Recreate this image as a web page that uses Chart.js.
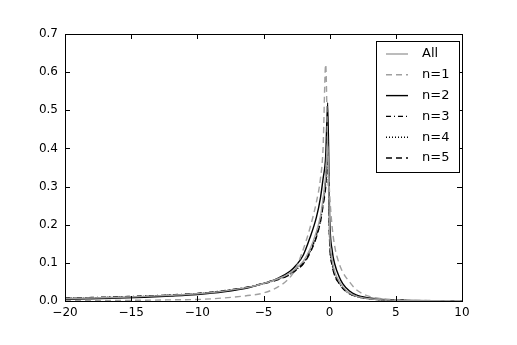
<!DOCTYPE html>
<html>
<head>
<meta charset="utf-8">
<script src="https://cdn.jsdelivr.net/npm/chart.js@4"></script>
<style>
  body { margin: 0; background: #fff; }
</style>
</head>
<body>
<canvas id="chart" width="517" height="345"></canvas>
<script>
const xs = [-20, -18, -16, -14, -12, -10, -8, -6, -5, -4, -3, -2.5, -2, -1.5, -1, -0.7, -0.5, -0.3, -0.15, 0, 0.2, 0.4, 0.7, 1, 1.5, 2, 3, 4, 5, 6, 8, 10];

const all = [0.007, 0.008, 0.010, 0.012, 0.015, 0.019, 0.026, 0.037, 0.046, 0.057, 0.073, 0.087, 0.104, 0.135, 0.182, 0.222, 0.268, 0.33, 0.42, 0.18, 0.105, 0.075, 0.053, 0.037, 0.021, 0.013, 0.006, 0.003, 0.002, 0.001, 0.0006, 0.0003];
const n1 = [0.001, 0.0012, 0.0015, 0.002, 0.003, 0.004, 0.008, 0.015, 0.021, 0.035, 0.062, 0.09, 0.135, 0.19, 0.26, 0.32, 0.40, 0.62, 0.40, 0.28, 0.19, 0.14, 0.10, 0.075, 0.05, 0.03, 0.012, 0.006, 0.003, 0.002, 0.001, 0.0005];
const n2 = [0.005, 0.006, 0.008, 0.010, 0.013, 0.017, 0.024, 0.036, 0.046, 0.058, 0.078, 0.095, 0.12, 0.165, 0.22, 0.27, 0.32, 0.38, 0.52, 0.22, 0.13, 0.095, 0.065, 0.045, 0.026, 0.016, 0.008, 0.004, 0.0025, 0.0015, 0.0008, 0.0004];
const n3 = [0.008, 0.009, 0.011, 0.013, 0.016, 0.020, 0.027, 0.038, 0.047, 0.057, 0.072, 0.085, 0.10, 0.13, 0.175, 0.215, 0.26, 0.32, 0.40, 0.17, 0.10, 0.07, 0.05, 0.035, 0.02, 0.013, 0.006, 0.003, 0.002, 0.001, 0.0006, 0.0003];
const n4 = [0.007, 0.008, 0.010, 0.012, 0.015, 0.019, 0.026, 0.037, 0.046, 0.056, 0.070, 0.083, 0.098, 0.127, 0.17, 0.21, 0.255, 0.31, 0.39, 0.16, 0.095, 0.067, 0.048, 0.034, 0.019, 0.012, 0.006, 0.003, 0.0018, 0.001, 0.0005, 0.0003];
const n5 = [0.007, 0.008, 0.010, 0.012, 0.015, 0.019, 0.026, 0.037, 0.045, 0.055, 0.069, 0.082, 0.097, 0.125, 0.168, 0.207, 0.25, 0.30, 0.38, 0.155, 0.092, 0.065, 0.047, 0.033, 0.019, 0.012, 0.006, 0.003, 0.0018, 0.001, 0.0005, 0.0003];

const labels = ['All', 'n=1', 'n=2', 'n=3', 'n=4', 'n=5'];
const xTicks = [-20, -15, -10, -5, 0, 5, 10];
const yTicks = [0, 0.1, 0.2, 0.3, 0.4, 0.5, 0.6, 0.7];

const grey = '#a0a0a0';
const styles = [
    { color: grey, dash: [] },
    { color: grey, dash: [6, 4] },
    { color: '#000', dash: [] },
    { color: '#000', dash: [5, 3, 1, 3] },
    { color: '#000', dash: [1, 2] },
    { color: '#000', dash: [6, 4] }
];

function pts(s) {
    return xs.map((x, i) => ({ x: x, y: s[i] }));
}

const series = [all, n1, n2, n3, n4, n5];

// matplotlib-like frame with inward ticks and legend in the upper right
const framePlugin = {
    id: 'frame',
    afterDraw(chart) {
        const ctx = chart.ctx;
        const a = chart.chartArea;
        const xs_ = chart.scales.x, ys_ = chart.scales.y;
        ctx.save();
        ctx.strokeStyle = '#000';
        ctx.lineWidth = 1;
        ctx.setLineDash([]);
        ctx.strokeRect(Math.round(a.left) + 0.5, Math.round(a.top) + 0.5, Math.round(a.right - a.left), Math.round(a.bottom - a.top));
        ctx.beginPath();
        xTicks.forEach(v => {
            const p = Math.round(xs_.getPixelForValue(v)) + 0.5;
            ctx.moveTo(p, a.bottom); ctx.lineTo(p, a.bottom - 5);
            ctx.moveTo(p, a.top); ctx.lineTo(p, a.top + 5);
        });
        yTicks.forEach(v => {
            const p = Math.round(ys_.getPixelForValue(v)) + 0.5;
            ctx.moveTo(a.left, p); ctx.lineTo(a.left + 5, p);
            ctx.moveTo(a.right, p); ctx.lineTo(a.right - 5, p);
        });
        ctx.stroke();

        // legend
        const bx = 376.5, by = 41.5, bw = 83, bh = 131;
        ctx.fillStyle = '#fff';
        ctx.fillRect(bx, by, bw, bh);
        ctx.strokeRect(bx, by, bw, bh);
        ctx.font = '13px "DejaVu Sans"';
        ctx.textBaseline = 'middle';
        labels.forEach((l, i) => {
            const cy = 54 + i * 20.8;
            ctx.strokeStyle = styles[i].color;
            ctx.lineWidth = 1.4;
            ctx.setLineDash(styles[i].dash);
            ctx.beginPath();
            ctx.moveTo(386, cy); ctx.lineTo(408, cy);
            ctx.stroke();
            ctx.fillStyle = '#000';
            ctx.fillText(l, 422, cy);
        });
        ctx.restore();
    }
};

new Chart(document.getElementById('chart'), {
    type: 'line',
    data: {
        datasets: series.map((s, i) => ({
            label: labels[i],
            data: pts(s),
            borderColor: styles[i].color,
            borderDash: styles[i].dash,
            borderWidth: 1.4,
            pointRadius: 0,
            fill: false,
            cubicInterpolationMode: 'monotone'
        }))
    },
    options: {
        responsive: false,
        animation: false,
        layout: { padding: { left: 0, top: 34, right: 55, bottom: 20 } },
        plugins: { legend: { display: false }, tooltip: { enabled: false } },
        scales: {
            x: {
                type: 'linear',
                min: -20, max: 10,
                afterBuildTicks: (s) => { s.ticks = xTicks.map(v => ({ value: v })); },
                afterFit: (s) => { s.height = 24; },
                grid: { display: false, drawTicks: false },
                border: { display: false },
                ticks: {
                    padding: 5,
                    maxRotation: 0,
                    color: '#000',
                    font: { family: 'DejaVu Sans', size: 12 },
                    callback: (v) => String(v).replace('-', '\u2212')
                }
            },
            y: {
                min: 0, max: 0.7,
                afterBuildTicks: (s) => { s.ticks = yTicks.map(v => ({ value: v })); },
                afterFit: (s) => { s.width = 65; },
                grid: { display: false, drawTicks: false },
                border: { display: false },
                ticks: {
                    padding: 7,
                    color: '#000',
                    font: { family: 'DejaVu Sans', size: 12 },
                    callback: (v) => v.toFixed(1)
                }
            }
        }
    },
    plugins: [framePlugin]
});
</script>
</body>
</html>
